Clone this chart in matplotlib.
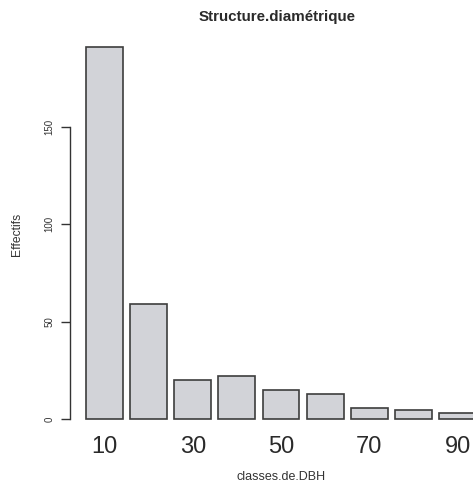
import matplotlib
matplotlib.use("Agg")
import matplotlib.pyplot as plt
import numpy as np

# Diameter classes (cm) and tree counts per class
classes = ["10", "20", "30", "40", "50", "60", "70", "80", "90"]
effectifs = [191, 59, 20, 22, 15, 13, 6, 5, 3]
y_ticks = [0, 50, 100, 150]

plt.rcParams["font.family"] = ["Liberation Sans", "DejaVu Sans"]

W, H = 473, 484
fig = plt.figure(figsize=(W / 100, H / 100), dpi=100)

# R-style barplot geometry: width 1, space 0.2
x_left = 0.2 + 1.2 * np.arange(len(classes))
centers = x_left + 0.5

# plot region in pixels (left/right/top/bottom)
px_left, px_top, px_bottom = 70.4, 32.0, 434.2
ax = fig.add_axes([px_left / W, 1 - px_bottom / H,
                   (W - px_left) / W, (px_bottom - px_top) / H])

ax.bar(x_left, effectifs, width=1.0, align="edge",
       color="#d2d3d8", edgecolor="#3d3d3d", linewidth=1.2)

ax.set_xlim(-0.224, (W - 78.6) / 36.8)
ymax = max(effectifs) * 1.04
ymin = -max(effectifs) * 0.04
ax.set_ylim(ymin, ymax)

for s in ["top", "right", "bottom"]:
    ax.spines[s].set_visible(False)
ax.spines["left"].set_bounds(0, 150)
ax.spines["left"].set_color("#333333")
ax.spines["left"].set_linewidth(1.0)

ax.set_yticks(y_ticks)
ax.set_yticklabels([str(v) for v in y_ticks], rotation=90, fontsize=7,
                   color="#333333", va="center")
ax.tick_params(axis="y", length=6.5, width=1.0, color="#333333", pad=5)

shown = [i for i in range(len(classes)) if i % 2 == 0]
ax.set_xticks(centers[shown])
ax.set_xticklabels([classes[i] for i in shown], fontsize=17, color="#2a2a2a")
ax.tick_params(axis="x", length=0, pad=1)

fig.text(277 / W, 1 - 17 / H, "Structure.diamétrique", ha="center",
         va="center", fontsize=10.9, fontweight="bold", color="#2a2a2a")
fig.text(281 / W, 1 - 477 / H, "classes.de.DBH", ha="center", va="center",
         fontsize=9, color="#333333")
fig.text(17 / W, 1 - 234 / H, "Effectifs", ha="center", va="center",
         rotation=90, fontsize=8.7, color="#333333")

fig.savefig("out.png", dpi=100, facecolor="white")
